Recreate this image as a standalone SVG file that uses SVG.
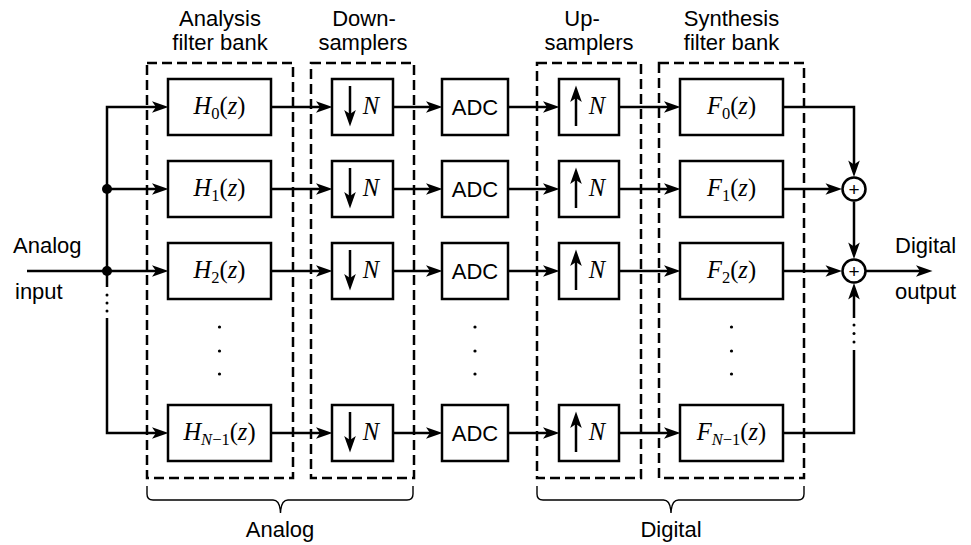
<svg xmlns="http://www.w3.org/2000/svg" width="971" height="545" viewBox="0 0 971 545">
  <style>
    .box { fill: #fff; stroke: #000; stroke-width: 2.5; }
    .frame { fill: none; stroke: #000; stroke-width: 2.5; stroke-dasharray: 10 5; }
    .wire { fill: none; stroke: #000; stroke-width: 2.5; }
    .arr { marker-end: url(#ah); }
    .brace { fill: none; stroke: #000; stroke-width: 1.4; }
    .sum { fill: #fff; stroke: #000; stroke-width: 2.5; }
    .lbl { font-family: "Liberation Sans", Arial, sans-serif; font-size: 22px; fill: #000; }
    .c { text-anchor: middle; }
    .math { font-family: "Liberation Serif", "Times New Roman", serif; font-size: 24.5px; fill: #000; text-anchor: middle; }
    .it { font-style: italic; }
    .sub { font-size: 16.5px; }
    .plus { font-family: "Liberation Sans", Arial, sans-serif; font-size: 19px; text-anchor: middle; }
  </style>
  <defs>
    <marker id="ah" markerUnits="userSpaceOnUse" markerWidth="20" markerHeight="14" refX="0" refY="0" orient="auto" overflow="visible">
      <path d="M8.5,0 L-8,-5.8 L-4,0 L-8,5.8 Z" fill="#000"/>
    </marker>
  </defs>

  <!-- dashed stage frames -->
  <g id="frames">
    <rect class="frame" x="147" y="63" width="146" height="415"/>
    <rect class="frame" x="311" y="63" width="103" height="415"/>
    <rect class="frame" x="537" y="63" width="104" height="415"/>
    <rect class="frame" x="659" y="63" width="145" height="415"/>
  </g>

  <!-- stage headings -->
  <g id="headings" class="lbl c">
    <text x="220" y="26">Analysis</text>
    <text x="220" y="49.5">filter bank</text>
    <text x="364" y="26">Down-</text>
    <text x="363" y="49.5">samplers</text>
    <text x="582" y="26">Up-</text>
    <text x="589" y="49.5">samplers</text>
    <text x="731.5" y="26">Synthesis</text>
    <text x="731.5" y="49.5">filter bank</text>
  </g>

  <!-- signal flow -->
  <g id="connectors">
    <!-- input split -->
    <path class="wire arr" d="M27,271 H160"/>
    <path class="wire arr" d="M107,287 V107 H160"/>
    <path class="wire arr" d="M107,189 H160"/>
    <path class="wire arr" d="M107,318 V433 H160"/>
    <!-- row 0 -->
    <path class="wire arr" d="M271,107 H324"/>
    <path class="wire arr" d="M393,107 H434"/>
    <path class="wire arr" d="M508,107 H551"/>
    <path class="wire arr" d="M619,107 H672"/>
    <!-- row 1 -->
    <path class="wire arr" d="M271,189 H324"/>
    <path class="wire arr" d="M393,189 H434"/>
    <path class="wire arr" d="M508,189 H551"/>
    <path class="wire arr" d="M619,189 H672"/>
    <!-- row 2 -->
    <path class="wire arr" d="M271,271 H324"/>
    <path class="wire arr" d="M393,271 H434"/>
    <path class="wire arr" d="M508,271 H551"/>
    <path class="wire arr" d="M619,271 H672"/>
    <!-- row N-1 -->
    <path class="wire arr" d="M271,433 H324"/>
    <path class="wire arr" d="M393,433 H434"/>
    <path class="wire arr" d="M508,433 H551"/>
    <path class="wire arr" d="M619,433 H672"/>
    <!-- combining -->
    <path class="wire arr" d="M783,107 H854 V168.5"/>
    <path class="wire arr" d="M783,189 H833.5"/>
    <path class="wire arr" d="M854,201.5 V250.5"/>
    <path class="wire arr" d="M783,271 H833.5"/>
    <path class="wire" d="M783,433 H854 V350"/>
    <path class="wire arr" d="M854,318 V291.5"/>
    <path class="wire arr" d="M866,271 H924"/>
    <!-- junctions -->
    <circle cx="107" cy="189" r="5"/>
    <circle cx="107" cy="271" r="5"/>
  </g>

  <!-- continuation dots -->
  <g id="ellipses" fill="#000">
    <circle cx="107" cy="295" r="1.5"/>
    <circle cx="107" cy="303" r="1.5"/>
    <circle cx="107" cy="311" r="1.5"/>
    <circle cx="854" cy="325" r="1.5"/>
    <circle cx="854" cy="333.5" r="1.5"/>
    <circle cx="854" cy="342" r="1.5"/>
    <circle cx="219.5" cy="327" r="1.6"/>
    <circle cx="219.5" cy="351" r="1.6"/>
    <circle cx="219.5" cy="374" r="1.6"/>
    <circle cx="475" cy="327" r="1.6"/>
    <circle cx="475" cy="351" r="1.6"/>
    <circle cx="475" cy="374" r="1.6"/>
    <circle cx="731.5" cy="327" r="1.6"/>
    <circle cx="731.5" cy="351" r="1.6"/>
    <circle cx="731.5" cy="374" r="1.6"/>
  </g>

  <!-- analysis filters -->
  <g id="H0">
    <rect class="box" x="168" y="79" width="103" height="56"/>
    <text class="math" x="219.5" y="114"><tspan class="it">H</tspan><tspan class="sub" dy="4.5">0</tspan><tspan dy="-4.5">(</tspan><tspan class="it">z</tspan>)</text>
  </g>
  <g id="H1">
    <rect class="box" x="168" y="161" width="103" height="56"/>
    <text class="math" x="219.5" y="196"><tspan class="it">H</tspan><tspan class="sub" dy="4.5">1</tspan><tspan dy="-4.5">(</tspan><tspan class="it">z</tspan>)</text>
  </g>
  <g id="H2">
    <rect class="box" x="168" y="243" width="103" height="56"/>
    <text class="math" x="219.5" y="278"><tspan class="it">H</tspan><tspan class="sub" dy="4.5">2</tspan><tspan dy="-4.5">(</tspan><tspan class="it">z</tspan>)</text>
  </g>
  <g id="HN1">
    <rect class="box" x="168" y="405" width="103" height="56"/>
    <text class="math" x="219.5" y="440"><tspan class="it">H</tspan><tspan class="sub" dy="4.5"><tspan class="it">N</tspan>−1</tspan><tspan dy="-4.5">(</tspan><tspan class="it">z</tspan>)</text>
  </g>

  <!-- downsamplers -->
  <g id="D0">
    <rect class="box" x="332" y="79" width="61" height="56"/>
    <path class="wire arr" d="M350,86 V118"/>
    <text class="math it" x="371" y="114">N</text>
  </g>
  <g id="D1">
    <rect class="box" x="332" y="161" width="61" height="56"/>
    <path class="wire arr" d="M350,168 V200"/>
    <text class="math it" x="371" y="196">N</text>
  </g>
  <g id="D2">
    <rect class="box" x="332" y="243" width="61" height="56"/>
    <path class="wire arr" d="M350,250 V282"/>
    <text class="math it" x="371" y="278">N</text>
  </g>
  <g id="DN1">
    <rect class="box" x="332" y="405" width="61" height="56"/>
    <path class="wire arr" d="M350,412 V444"/>
    <text class="math it" x="371" y="440">N</text>
  </g>

  <!-- converters -->
  <g id="ADC0">
    <rect class="box" x="442" y="79" width="66" height="56"/>
    <text class="lbl c" x="475" y="114.5">ADC</text>
  </g>
  <g id="ADC1">
    <rect class="box" x="442" y="161" width="66" height="56"/>
    <text class="lbl c" x="475" y="196.5">ADC</text>
  </g>
  <g id="ADC2">
    <rect class="box" x="442" y="243" width="66" height="56"/>
    <text class="lbl c" x="475" y="278.5">ADC</text>
  </g>
  <g id="ADCN1">
    <rect class="box" x="442" y="405" width="66" height="56"/>
    <text class="lbl c" x="475" y="440.5">ADC</text>
  </g>

  <!-- upsamplers -->
  <g id="U0">
    <rect class="box" x="559" y="79" width="60" height="56"/>
    <path class="wire arr" d="M576,126 V94"/>
    <text class="math it" x="597" y="114">N</text>
  </g>
  <g id="U1">
    <rect class="box" x="559" y="161" width="60" height="56"/>
    <path class="wire arr" d="M576,208 V176"/>
    <text class="math it" x="597" y="196">N</text>
  </g>
  <g id="U2">
    <rect class="box" x="559" y="243" width="60" height="56"/>
    <path class="wire arr" d="M576,290 V258"/>
    <text class="math it" x="597" y="278">N</text>
  </g>
  <g id="UN1">
    <rect class="box" x="559" y="405" width="60" height="56"/>
    <path class="wire arr" d="M576,452 V420"/>
    <text class="math it" x="597" y="440">N</text>
  </g>

  <!-- synthesis filters -->
  <g id="F0">
    <rect class="box" x="680" y="79" width="103" height="56"/>
    <text class="math" x="731.5" y="114"><tspan class="it">F</tspan><tspan class="sub" dy="4.5">0</tspan><tspan dy="-4.5">(</tspan><tspan class="it">z</tspan>)</text>
  </g>
  <g id="F1">
    <rect class="box" x="680" y="161" width="103" height="56"/>
    <text class="math" x="731.5" y="196"><tspan class="it">F</tspan><tspan class="sub" dy="4.5">1</tspan><tspan dy="-4.5">(</tspan><tspan class="it">z</tspan>)</text>
  </g>
  <g id="F2">
    <rect class="box" x="680" y="243" width="103" height="56"/>
    <text class="math" x="731.5" y="278"><tspan class="it">F</tspan><tspan class="sub" dy="4.5">2</tspan><tspan dy="-4.5">(</tspan><tspan class="it">z</tspan>)</text>
  </g>
  <g id="FN1">
    <rect class="box" x="680" y="405" width="103" height="56"/>
    <text class="math" x="731.5" y="440"><tspan class="it">F</tspan><tspan class="sub" dy="4.5"><tspan class="it">N</tspan>−1</tspan><tspan dy="-4.5">(</tspan><tspan class="it">z</tspan>)</text>
  </g>

  <!-- adders -->
  <g id="S1">
    <circle class="sum" cx="854" cy="189" r="11.5"/>
    <text class="plus" x="854" y="195.8">+</text>
  </g>
  <g id="S2">
    <circle class="sum" cx="854" cy="271" r="11.5"/>
    <text class="plus" x="854" y="277.8">+</text>
  </g>

  <!-- terminals -->
  <g id="in-label" class="lbl">
    <text x="13" y="253">Analog</text>
    <text x="15" y="299">input</text>
  </g>
  <g id="out-label" class="lbl">
    <text x="895" y="253">Digital</text>
    <text x="895" y="299">output</text>
  </g>

  <!-- domain braces -->
  <g id="analog-brace">
    <path class="brace" d="M147,486 V494 Q147,500 153,500 H273 Q280,500 280.5,513 Q281,500 288,500 H407 Q413,500 413,494 V486"/>
    <text class="lbl c" x="280" y="537">Analog</text>
  </g>
  <g id="digital-brace">
    <path class="brace" d="M537,486 V494 Q537,500 543,500 H663.5 Q670.5,500 671,513 Q671.5,500 678.5,500 H798 Q804,500 804,494 V486"/>
    <text class="lbl c" x="671" y="537">Digital</text>
  </g>
</svg>
